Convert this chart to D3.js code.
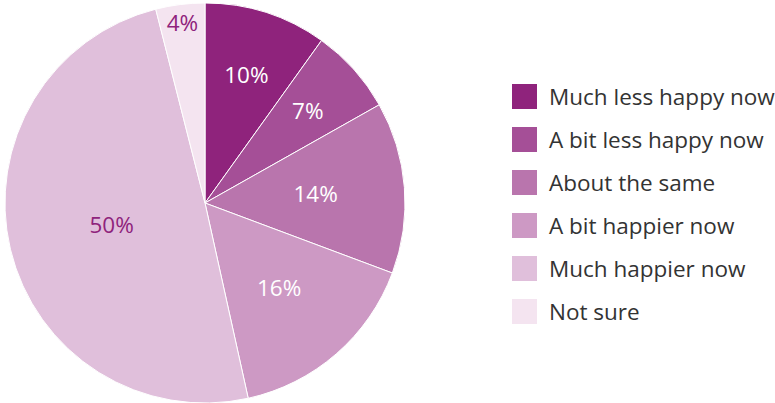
<!DOCTYPE html>
<html>
<head>
<meta charset="utf-8">
<script src="https://cdn.jsdelivr.net/npm/d3@7/dist/d3.min.js"></script>
<style>
  html, body { margin: 0; padding: 0; background: #fff; }
  svg { display: block; }
  text { font-family: "Open Sans", "Noto Sans", sans-serif; }
</style>
</head>
<body>
<svg id="chart" width="775" height="403"></svg>
<script>
// Survey responses, in drawing order (clockwise from 12 o'clock)
const categories = ["Much less happy now", "A bit less happy now", "About the same",
                    "A bit happier now", "Much happier now", "Not sure"];
const values = [10, 7, 14, 16, 50, 4];

// Presentation settings
const sliceColors = ["#8f237c", "#a54f97", "#b975ad", "#cd99c4", "#e0bfdb", "#f4e4f0"];
const labelColors = ["#ffffff", "#ffffff", "#ffffff", "#ffffff", "#8f237c", "#8f237c"];
const labelRadii = [135, 138, 111, 113, 96, 182];

const svg = d3.select("#chart");
const cx = 205, cy = 203, radius = 200;

const pie = d3.pie().sort(null).value(d => d.value);
const arcs = pie(categories.map((c, i) => ({ name: c, value: values[i], i })));
const arc = d3.arc().innerRadius(0).outerRadius(radius);

const g = svg.append("g").attr("transform", `translate(${cx},${cy})`);

g.selectAll("path.slice")
  .data(arcs)
  .join("path")
  .attr("class", "slice")
  .attr("d", arc)
  .attr("fill", d => sliceColors[d.data.i])
  .attr("stroke", "#ffffff")
  .attr("stroke-width", 1);

g.selectAll("text.pct")
  .data(arcs)
  .join("text")
  .attr("class", "pct")
  .attr("transform", d => {
    const r = labelRadii[d.data.i];
    return `translate(${d3.arc().innerRadius(r).outerRadius(r).centroid(d)})`;
  })
  .attr("text-anchor", "middle")
  .attr("dy", "0.36em")
  .attr("font-size", 22.5)
  .attr("fill", d => labelColors[d.data.i])
  .text(d => d.data.value + "%");

// Legend
const legend = svg.append("g").attr("transform", "translate(512,84)");
const row = legend.selectAll("g")
  .data(categories)
  .join("g")
  .attr("transform", (d, i) => `translate(0,${i * 43})`);

row.append("rect")
  .attr("width", 25)
  .attr("height", 25)
  .attr("fill", (d, i) => sliceColors[i]);

row.append("text")
  .attr("x", 37)
  .attr("y", 12.5)
  .attr("dy", "0.36em")
  .attr("font-size", 22.5)
  .attr("fill", "#333333")
  .text(d => d);
</script>
</body>
</html>
